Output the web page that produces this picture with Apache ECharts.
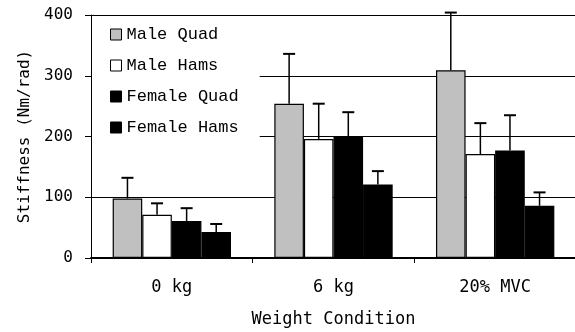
<!DOCTYPE html>
<html>
<head>
<meta charset="utf-8">
<script src="https://cdn.jsdelivr.net/npm/echarts@6/dist/echarts.min.js"></script>
<style>html,body{margin:0;padding:0;background:#fff;}#c{width:575px;height:332px;}</style>
</head>
<body>
<div id="c"></div>
<script>
var categories = ['0 kg', '6 kg', '20% MVC'];
var seriesNames = ['Male Quad', 'Male Hams', 'Female Quad', 'Female Hams'];
var maleQuad = [98, 254, 309];
var maleHams = [71, 196, 171];
var femaleQuad = [61, 199, 177];
var femaleHams = [43, 121, 86];
var maleQuadErr = [34, 82, 95];
var maleHamsErr = [19, 58, 51];
var femaleQuadErr = [21, 41, 58];
var femaleHamsErr = [13, 22, 22];
var yTicks = [0, 100, 200, 300, 400];

var values = [maleQuad, maleHams, femaleQuad, femaleHams];
var errs = [maleQuadErr, maleHamsErr, femaleQuadErr, femaleHamsErr];
var colors = ['#c0c0c0', '#ffffff', '#000000', '#000000'];
var BAR_FRAC = 0.183;

var errData = [];
for (var s = 0; s < 4; s++) {
  for (var c = 0; c < categories.length; c++) {
    errData.push([c, values[s][c], errs[s][c], s]);
  }
}

var series = seriesNames.map(function (n, i) {
  return {
    name: n, type: 'bar', data: values[i],
    barWidth: (BAR_FRAC * 100) + '%', barGap: '0%',
    itemStyle: { color: colors[i], borderColor: '#000', borderWidth: 1.2 }
  };
});
series.push({
  type: 'custom', name: 'err', data: errData, z: 5,
  encode: { x: 0, y: 1 },
  renderItem: function (params, api) {
    var cat = api.value(0), v = api.value(1), e = api.value(2), si = api.value(3);
    var band = api.size([1, 0])[0];
    var w = band * BAR_FRAC;
    var cx = api.coord([cat, 0])[0] + (si - 1.5) * w;
    var y0 = api.coord([cat, v])[1];
    var y1 = api.coord([cat, v + e])[1];
    return {
      type: 'group', children: [
        { type: 'line', shape: { x1: cx, y1: y0, x2: cx, y2: y1 }, style: { stroke: '#000', lineWidth: 1.5 } },
        { type: 'line', shape: { x1: cx - 6, y1: y1, x2: cx + 6, y2: y1 }, style: { stroke: '#000', lineWidth: 2 } }
      ]
    };
  }
});

var chart = echarts.init(document.getElementById('c'));
chart.setOption({
  animation: false,
  backgroundColor: '#fff',
  grid: { left: 91, right: -1, top: 15, bottom: 74, containLabel: false, outerBoundsMode: 'none' },
  legend: {
    data: seriesNames.map(function (n) { return { name: n, icon: 'rect' }; }),
    orient: 'vertical', left: 92, top: 16,
    itemWidth: 11, itemHeight: 11, itemGap: 14,
    padding: [10, 21, 10, 18],
    backgroundColor: '#fff', itemTextGap: 5,
    itemStyle: { borderColor: '#000', borderWidth: 1 },
    textStyle: { fontFamily: 'Liberation Mono', fontSize: 17, lineHeight: 17, color: '#000' }
  },
  xAxis: {
    type: 'category', data: categories, boundaryGap: true,
    axisLine: { lineStyle: { color: '#000', width: 2 } },
    axisTick: { show: true, length: 5, interval: 0, lineStyle: { color: '#000' } },
    axisLabel: { margin: 21, fontFamily: 'DejaVu Sans Mono', fontSize: 17, color: '#000' },
    name: 'Weight Condition', nameLocation: 'middle', nameGap: 53,
    nameTextStyle: { fontFamily: 'DejaVu Sans Mono', fontSize: 17, color: '#000' }
  },
  yAxis: {
    type: 'value', min: yTicks[0], max: yTicks[yTicks.length - 1], interval: 100,
    axisLine: { show: true, lineStyle: { color: '#000', width: 1 } },
    axisTick: { show: true, length: 6, lineStyle: { color: '#000' } },
    splitLine: { show: true, lineStyle: { color: '#000', width: 1 } },
    axisLabel: { margin: 18, fontFamily: 'DejaVu Sans Mono', fontSize: 16, color: '#000' },
    name: 'Stiffness (Nm/rad)', nameLocation: 'middle', nameGap: 57, nameRotate: 90,
    nameTextStyle: { fontFamily: 'DejaVu Sans Mono', fontSize: 16, color: '#000' }
  },
  series: series
});
</script>
</body>
</html>
